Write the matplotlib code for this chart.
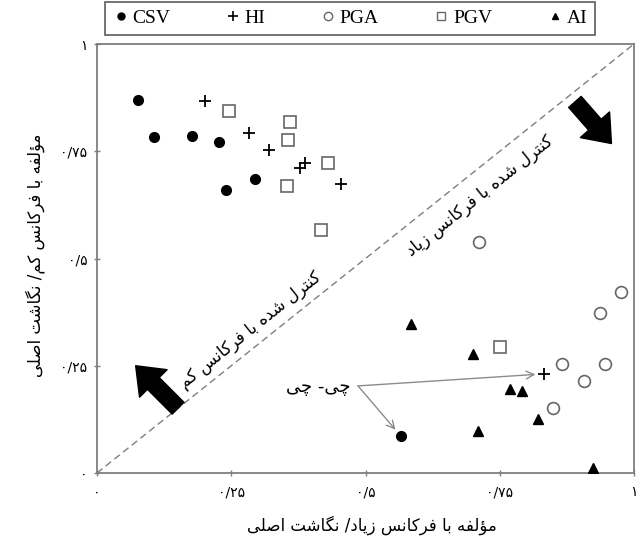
import matplotlib
matplotlib.use("Agg")
import matplotlib.pyplot as plt
from matplotlib.lines import Line2D
from matplotlib.patches import FancyArrowPatch, ArrowStyle

# --- data -------------------------------------------------------------
csv_x = [0.077, 0.107, 0.177, 0.228, 0.294, 0.241, 0.566]
csv_y = [0.869, 0.783, 0.786, 0.771, 0.685, 0.660, 0.086]

hi_x = [0.201, 0.283, 0.320, 0.378, 0.387, 0.455, 0.832]
hi_y = [0.867, 0.793, 0.753, 0.712, 0.722, 0.673, 0.231]

pga_x = [0.712, 0.975, 0.937, 0.865, 0.946, 0.907, 0.849]
pga_y = [0.539, 0.421, 0.373, 0.253, 0.255, 0.214, 0.151]

pgv_x = [0.246, 0.360, 0.355, 0.430, 0.353, 0.418, 0.750]
pgv_y = [0.844, 0.818, 0.776, 0.723, 0.670, 0.567, 0.293]

ai_x = [0.584, 0.701, 0.769, 0.791, 0.821, 0.710, 0.924]
ai_y = [0.347, 0.277, 0.196, 0.190, 0.125, 0.098, 0.012]

ticks = [0, 0.25, 0.5, 0.75, 1]
tick_labels = ["۰", "۰/۲۵", "۰/۵", "۰/۷۵", "۱"]

xlabel = "مؤلفه با فرکانس زیاد/ نگاشت اصلی"
ylabel = "مؤلفه با فرکانس کم/ نگاشت اصلی"
high_txt = "کنترل شده با فرکانس زیاد"
low_txt = "کنترل شده با فرکانس کم"
note_txt = "چی- چی"

# --- minimal arabic/persian shaping (no raqm in matplotlib) -------------
# isolated, final, initial, medial
FORMS = {
    "\u0627": ("\uFE8D", "\uFE8E"),
    "\u0624": ("\uFE85", "\uFE86"),
    "\u062F": ("\uFEA9", "\uFEAA"),
    "\u0631": ("\uFEAD", "\uFEAE"),
    "\u0632": ("\uFEAF", "\uFEB0"),
    "\u0628": ("\uFE8F", "\uFE90", "\uFE91", "\uFE92"),
    "\u062A": ("\uFE95", "\uFE96", "\uFE97", "\uFE98"),
    "\u0633": ("\uFEB1", "\uFEB2", "\uFEB3", "\uFEB4"),
    "\u0634": ("\uFEB5", "\uFEB6", "\uFEB7", "\uFEB8"),
    "\u0635": ("\uFEB9", "\uFEBA", "\uFEBB", "\uFEBC"),
    "\u0641": ("\uFED1", "\uFED2", "\uFED3", "\uFED4"),
    "\u0644": ("\uFEDD", "\uFEDE", "\uFEDF", "\uFEE0"),
    "\u0645": ("\uFEE1", "\uFEE2", "\uFEE3", "\uFEE4"),
    "\u0646": ("\uFEE5", "\uFEE6", "\uFEE7", "\uFEE8"),
    "\u0647": ("\uFEE9", "\uFEEA", "\uFEEB", "\uFEEC"),
    "\u06CC": ("\uFBFC", "\uFBFD", "\uFBFE", "\uFBFF"),
    "\u06A9": ("\uFB8E", "\uFB8F", "\uFB90", "\uFB91"),
    "\u06AF": ("\uFB92", "\uFB93", "\uFB94", "\uFB95"),
    "\u0686": ("\uFB7A", "\uFB7B", "\uFB7C", "\uFB7D"),
}


def fa(text):
    out = []
    for i, ch in enumerate(text):
        forms = FORMS.get(ch)
        if forms is None:
            out.append(ch)
            continue
        prev = text[i - 1] if i > 0 else ""
        nxt = text[i + 1] if i + 1 < len(text) else ""
        jp = prev in FORMS and len(FORMS[prev]) == 4
        jn = len(forms) == 4 and nxt in FORMS
        if jp and jn:
            out.append(forms[3])
        elif jp:
            out.append(forms[1])
        elif jn:
            out.append(forms[2])
        else:
            out.append(forms[0])
    return "".join(reversed(out))


FA_FONT = ["DejaVu Sans"]
LEG_FONT = ["Liberation Serif", "DejaVu Serif"]
GRAY = "#7f7f7f"

fig = plt.figure(figsize=(6.42, 5.46), dpi=100)
ax = fig.add_axes([97 / 642, 1 - 473 / 546, 537 / 642, 429 / 546])

# diagonal 1:1 line
ax.plot([0, 1], [0, 1], ls=(0, (5, 3)), color=GRAY, lw=1.0, zorder=1)

ax.plot(csv_x, csv_y, "o", ms=7, mfc="black", mec="black", ls="none", label="CSV", zorder=3)
ax.plot(hi_x, hi_y, "+", ms=9, mew=1.3, color="black", ls="none", label="HI", zorder=3)
ax.plot(pga_x, pga_y, "o", ms=8.5, mfc="white", mec="#666666", mew=1.2, ls="none", label="PGA", zorder=3)
ax.plot(pgv_x, pgv_y, "s", ms=8.5, mfc="white", mec="#666666", mew=1.2, ls="none", label="PGV", zorder=3)
ax.plot(ai_x, ai_y, "^", ms=7, mfc="black", mec="black", ls="none", label="AI", zorder=3)

ax.set_xlim(0, 1)
ax.set_ylim(0, 1)
ax.set_xticks(ticks)
ax.set_yticks(ticks)
ax.set_xticklabels(tick_labels, family=FA_FONT, fontsize=10)
ax.set_yticklabels(tick_labels, family=FA_FONT, fontsize=10)
ax.tick_params(direction="inout", length=4, color=GRAY, width=1)
ax.tick_params(axis="x", pad=7)
ax.tick_params(axis="y", pad=5)
for sp in ax.spines.values():
    sp.set_color(GRAY)
    sp.set_linewidth(1.3)

ax.set_xlabel(fa(xlabel), family=FA_FONT, fontsize=12)
ax.xaxis.set_label_coords(0.511, -0.1)
ax.set_ylabel(fa(ylabel), family=FA_FONT, fontsize=12)
ax.yaxis.set_label_coords(-0.097, 0.508)

# side labels along the diagonal
ax.text(0.713, 0.646, fa(high_txt), family=FA_FONT, fontsize=12, rotation=45,
        transform_rotates_text=True, rotation_mode="anchor", ha="center", va="center")
ax.text(0.285, 0.333, fa(low_txt), family=FA_FONT, fontsize=12, rotation=45,
        transform_rotates_text=True, rotation_mode="anchor", ha="center", va="center")

# block arrows
block = ArrowStyle.Simple(head_length=18, head_width=28, tail_width=12)
for tail, tip in [((0.890, 0.865), (0.958, 0.768)), ((0.151, 0.151), (0.072, 0.250))]:
    ax.add_patch(FancyArrowPatch(tail, tip, arrowstyle=block, mutation_scale=1,
                                 fc="black", ec="black", shrinkA=0, shrinkB=0, zorder=4))

# chi-chi note pointing at its two points
ax.text(0.412, 0.200, fa(note_txt), family=FA_FONT, fontsize=13, ha="center", va="center")
start = (0.486, 0.203)
for tx, ty in [(hi_x[-1], hi_y[-1]), (csv_x[-1], csv_y[-1])]:
    ax.annotate("", xy=(tx, ty), xytext=start,
                arrowprops=dict(arrowstyle="->", color="#8c8c8c", lw=1.0,
                                shrinkA=0, shrinkB=6, mutation_scale=14))

# legend box across the top
handles = [
    Line2D([], [], marker="o", ms=5, mfc="black", mec="black", ls="none"),
    Line2D([], [], marker="+", ms=7, mew=1.2, color="black", ls="none"),
    Line2D([], [], marker="o", ms=6, mfc="white", mec="#666666", ls="none"),
    Line2D([], [], marker="s", ms=6, mfc="white", mec="#666666", ls="none"),
    Line2D([], [], marker="^", ms=5, mfc="black", mec="black", ls="none"),
]
leg = fig.legend(handles, ["CSV", "HI", "PGA", "PGV", "AI"], ncol=5,
                 loc="lower left", bbox_to_anchor=(105 / 642, 1 - 35 / 546, 490 / 642, 30 / 546),
                 mode="expand", frameon=True, fancybox=False, handlelength=0.8,
                 handletextpad=0.2, borderaxespad=0, prop={"family": LEG_FONT, "size": 14})
leg.get_frame().set_edgecolor("#333333")
leg.get_frame().set_linewidth(1.2)

fig.savefig("out.png", dpi=100)
